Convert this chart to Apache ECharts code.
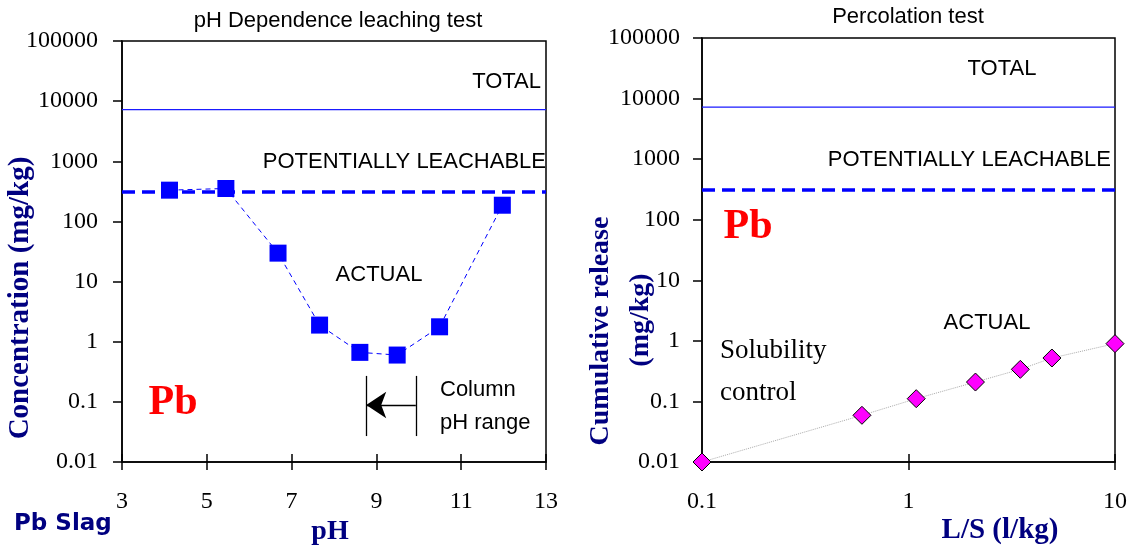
<!DOCTYPE html>
<html><head><meta charset="utf-8">
<script src="https://cdn.jsdelivr.net/npm/echarts@6/dist/echarts.min.js"></script>
<style>html,body{margin:0;padding:0;background:#fff}#c{width:1130px;height:548px}</style>
</head><body><div id="c"></div>
<script>
// ---- data ----
const phValues = [4.12, 5.45, 6.68, 7.66, 8.61, 9.49, 10.49, 11.97];
const phConc = [331, 353, 29.7, 1.89, 0.665, 0.60, 1.77, 186];
const lsValues = [0.1, 0.595, 1.09, 2.11, 3.48, 4.95, 10];
const lsRelease = [0.01, 0.059, 0.111, 0.209, 0.339, 0.521, 0.90];
const totalLevel = 7200;
const leachableLevel = 310;
const phRange = [3, 13];
const lsRange = [0.1, 10];
const concRange = [0.01, 100000];
const phTicks = [3, 5, 7, 9, 11, 13];
const concTickLabels = ['0.01', '0.1', '1', '10', '100', '1000', '10000', '100000'];
const lsTickLabels = ['0.1', '1', '10'];
const columnPhRange = [8.76, 9.93];
const columnBarY = [0.027, 0.27];
const columnArrowY = 0.0887;

// ---- styles ----
const SERIF = '"Liberation Serif", "Times New Roman", serif';
const SANS = '"Liberation Sans", Arial, sans-serif';
const NAVY = '#000080';
const BLUE = '#0000ff';

const concLabel = v => concTickLabels[Math.round(Math.log10(v)) + 2];
const lsLabel = v => lsTickLabels[Math.round(Math.log10(v)) + 1];

const axisLine = { show: true, lineStyle: { color: '#000', width: 1.5 } };
const tickFont = { color: '#000', fontFamily: SERIF, fontSize: 24 };

const chart = echarts.init(document.getElementById('c'), null, { renderer: 'canvas' });

function txt(x, y, text, font, fill, align, rot) {
  return {
    type: 'text', x: x, y: y, rotation: rot || 0, silent: true, z: 100,
    style: { text: text, font: font, fill: fill || '#000',
      align: align || 'center', textAlign: align || 'center',
      verticalAlign: 'middle', textVerticalAlign: 'middle' }
  };
}

const option = {
  animation: false,
  backgroundColor: '#fff',
  grid: [
    { left: 122, right: 584, top: 41, bottom: 86, show: true, borderColor: '#000', borderWidth: 1.5, containLabel: false },
    { left: 702, right: 15, top: 38, bottom: 86, show: true, borderColor: '#000', borderWidth: 1.5, containLabel: false }
  ],
  xAxis: [
    { gridIndex: 0, type: 'value', position: 'bottom', min: phRange[0], max: phRange[1],
      axisLine: axisLine, splitLine: { show: false },
      axisTick: { show: true, inside: false, length: 8, customValues: phTicks, lineStyle: { color: '#000', width: 1.5 } },
      axisLabel: Object.assign({ margin: 28, customValues: phTicks }, tickFont) },
    { gridIndex: 0, type: 'value', position: 'bottom', min: phRange[0], max: phRange[1],
      axisLine: { show: false }, splitLine: { show: false }, axisLabel: { show: false },
      axisTick: { show: true, inside: true, length: 8, customValues: phTicks, lineStyle: { color: '#000', width: 1.5 } } },
    { gridIndex: 1, type: 'log', logBase: 10, position: 'bottom', min: lsRange[0], max: lsRange[1],
      axisLine: axisLine, splitLine: { show: false }, minorTick: { show: false },
      axisTick: { show: true, inside: false, length: 8, lineStyle: { color: '#000', width: 1.5 } },
      axisLabel: Object.assign({ margin: 28, formatter: lsLabel }, tickFont) },
    { gridIndex: 1, type: 'log', logBase: 10, position: 'bottom', min: lsRange[0], max: lsRange[1],
      axisLine: { show: false }, splitLine: { show: false }, axisLabel: { show: false },
      axisTick: { show: true, inside: true, length: 8, lineStyle: { color: '#000', width: 1.5 } } }
  ],
  yAxis: [
    { gridIndex: 0, type: 'log', logBase: 10, min: concRange[0], max: concRange[1],
      axisLine: axisLine, splitLine: { show: false },
      axisTick: { show: true, inside: false, length: 9, lineStyle: { color: '#000', width: 1.5 } },
      axisLabel: Object.assign({ margin: 24, formatter: concLabel }, tickFont) },
    { gridIndex: 1, type: 'log', logBase: 10, min: concRange[0], max: concRange[1],
      axisLine: axisLine, splitLine: { show: false },
      axisTick: { show: true, inside: false, length: 9, lineStyle: { color: '#000', width: 1.5 } },
      axisLabel: Object.assign({ margin: 22, formatter: concLabel }, tickFont) }
  ],
  series: [
    { type: 'line', xAxisIndex: 0, yAxisIndex: 0, symbol: 'none', silent: true,
      data: phRange.map(x => [x, totalLevel]), lineStyle: { color: '#1a1aff', width: 1.2 } },
    { type: 'line', xAxisIndex: 0, yAxisIndex: 0, symbol: 'none', silent: true,
      data: phRange.map(x => [x, leachableLevel]), lineStyle: { color: BLUE, width: 3.5, type: [13, 7] } },
    { type: 'line', xAxisIndex: 0, yAxisIndex: 0, symbol: 'rect', symbolSize: 17, z: 5,
      data: phValues.map((x, i) => [x, phConc[i]]),
      itemStyle: { color: BLUE }, lineStyle: { color: BLUE, width: 1, type: [5, 4] },
      markLine: {
        silent: true, animation: false, symbol: ['none', 'none'], label: { show: false },
        lineStyle: { color: '#000', width: 1.3, type: 'solid' },
        emphasis: { disabled: true },
        data: [
          [{ coord: [columnPhRange[0], columnBarY[1]] }, { coord: [columnPhRange[0], columnBarY[0]] }],
          [{ coord: [columnPhRange[1], columnBarY[1]] }, { coord: [columnPhRange[1], columnBarY[0]] }],
          [{ coord: [columnPhRange[1], columnArrowY], symbol: 'none' },
           { coord: [columnPhRange[0], columnArrowY], symbol: 'arrow', symbolSize: [20, 20] }]
        ]
      } },
    { type: 'line', xAxisIndex: 2, yAxisIndex: 1, symbol: 'none', silent: true,
      data: lsRange.map(x => [x, totalLevel]), lineStyle: { color: '#1a1aff', width: 1.2 } },
    { type: 'line', xAxisIndex: 2, yAxisIndex: 1, symbol: 'none', silent: true,
      data: lsRange.map(x => [x, leachableLevel]), lineStyle: { color: BLUE, width: 3.5, type: [13, 7] } },
    { type: 'line', xAxisIndex: 2, yAxisIndex: 1, symbol: 'diamond', symbolSize: 18, z: 5,
      data: lsValues.map((x, i) => [x, lsRelease[i]]),
      itemStyle: { color: '#ff00ff', borderColor: '#000', borderWidth: 1 },
      lineStyle: { color: '#aaaaaa', width: 1, type: 'dotted' } }
  ],
  graphic: [
    txt(338, 21, 'pH Dependence leaching test', '22px ' + SANS),
    txt(908, 17, 'Percolation test', '22px ' + SANS),
    txt(541, 82, 'TOTAL', '22px ' + SANS, '#000', 'right'),
    txt(546, 162, 'POTENTIALLY LEACHABLE', '22px ' + SANS, '#000', 'right'),
    txt(379, 275, 'ACTUAL', '22px ' + SANS),
    txt(440, 390, 'Column', '22px ' + SANS, '#000', 'left'),
    txt(440, 423, 'pH range', '22px ' + SANS, '#000', 'left'),
    txt(173, 403, 'Pb', 'bold 42px ' + SERIF, '#ff0000'),
    txt(1002, 69, 'TOTAL', '22px ' + SANS),
    txt(1111, 160, 'POTENTIALLY LEACHABLE', '22px ' + SANS, '#000', 'right'),
    txt(748, 227, 'Pb', 'bold 42px ' + SERIF, '#ff0000'),
    txt(987, 323, 'ACTUAL', '22px ' + SANS),
    txt(720, 351, 'Solubility', '27px ' + SERIF, '#000', 'left'),
    txt(720, 393, 'control', '27px ' + SERIF, '#000', 'left'),
    txt(21, 298, 'Concentration (mg/kg)', 'bold 29px ' + SERIF, NAVY, 'center', Math.PI / 2),
    txt(601, 331, 'Cumulative release', 'bold 28px ' + SERIF, NAVY, 'center', Math.PI / 2),
    txt(641, 320, '(mg/kg)', 'bold 28px ' + SERIF, NAVY, 'center', Math.PI / 2),
    txt(330, 532, 'pH', 'bold 28px ' + SERIF, NAVY),
    txt(1000, 531, 'L/S (l/kg)', 'bold 29px ' + SERIF, NAVY),
    txt(14, 524, 'Pb Slag', 'bold 23px "DejaVu Sans", sans-serif', NAVY, 'left')
  ]
};
chart.setOption(option);
</script>
</body></html>
